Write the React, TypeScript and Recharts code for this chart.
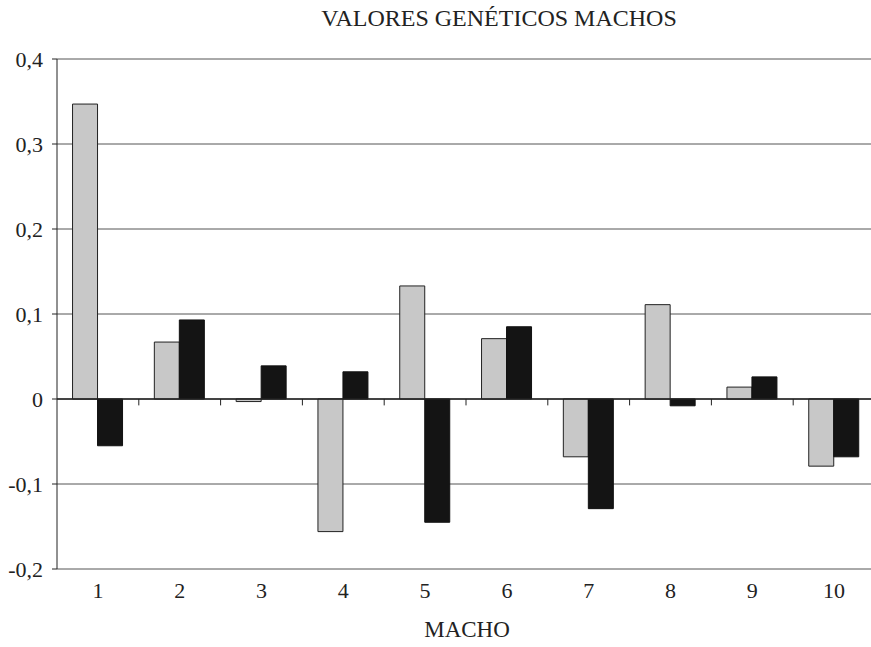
import React from "react";
import { BarChart, Bar, XAxis, YAxis, CartesianGrid, ReferenceLine } from "recharts";

const machos = ["1", "2", "3", "4", "5", "6", "7", "8", "9", "10"];
const serieA = [0.347, 0.067, -0.003, -0.156, 0.133, 0.071, -0.068, 0.111, 0.014, -0.079];
const serieB = [-0.055, 0.093, 0.039, 0.032, -0.145, 0.085, -0.129, -0.008, 0.026, -0.068];
const yTicks = [-0.2, -0.1, 0, 0.1, 0.2, 0.3, 0.4];

const data = machos.map((m, i) => ({ macho: m, a: serieA[i], b: serieB[i] }));

const FONT = '"Liberation Serif", "Times New Roman", Times, serif';

const fmt = (v: number) => (v === 0 ? "0" : v.toFixed(1).replace(".", ","));

export default function App() {
    return (
        <div style={{ position: "absolute", left: 0, top: 0, width: 871, height: 647, overflow: "hidden", background: "#fff", fontFamily: FONT }}>
            <div style={{ position: "absolute", top: 5, left: 0, width: 998, textAlign: "center", fontSize: 24, lineHeight: "27px", color: "#222" }}>
                VALORES GENÉTICOS MACHOS
            </div>
            <BarChart
                width={885}
                height={647}
                data={data}
                margin={{ top: 59, right: 10, bottom: 18, left: 0 }}
                barCategoryGap="19%"
                barGap={0}
            >
                <CartesianGrid vertical={false} stroke="#555" strokeWidth={1} />
                <XAxis
                    dataKey="macho"
                    height={60}
                    axisLine={false}
                    tickLine={false}
                    tickMargin={7}
                    tick={{ fill: "#222", fontSize: 22, fontFamily: FONT }}
                />
                <YAxis
                    width={57}
                    domain={[-0.2, 0.4]}
                    ticks={yTicks}
                    tickFormatter={fmt}
                    axisLine={{ stroke: "#222" }}
                    tickLine={{ stroke: "#222" }}
                    tickSize={5}
                    tickMargin={9}
                    tick={{ fill: "#222", fontSize: 22, fontFamily: FONT }}
                />
                <Bar dataKey="a" fill="#c8c8c8" stroke="#222" strokeWidth={1} isAnimationActive={false} />
                <Bar dataKey="b" fill="#141414" stroke="#111" strokeWidth={1} isAnimationActive={false} />
                <ReferenceLine y={0} stroke="#222" strokeWidth={1.5} />
                {machos.slice(1).map((m) => (
                    <ReferenceLine key={m} segment={[{ x: m, y: 0 }, { x: m, y: -0.0075 }]} position="start" stroke="#222" />
                ))}
                <ReferenceLine segment={[{ x: "10", y: 0 }, { x: "10", y: -0.0075 }]} position="end" stroke="#222" />
            </BarChart>
            <div style={{ position: "absolute", top: 617, left: 0, width: 934, textAlign: "center", fontSize: 23, lineHeight: "26px", color: "#222" }}>
                MACHO
            </div>
        </div>
    );
}
